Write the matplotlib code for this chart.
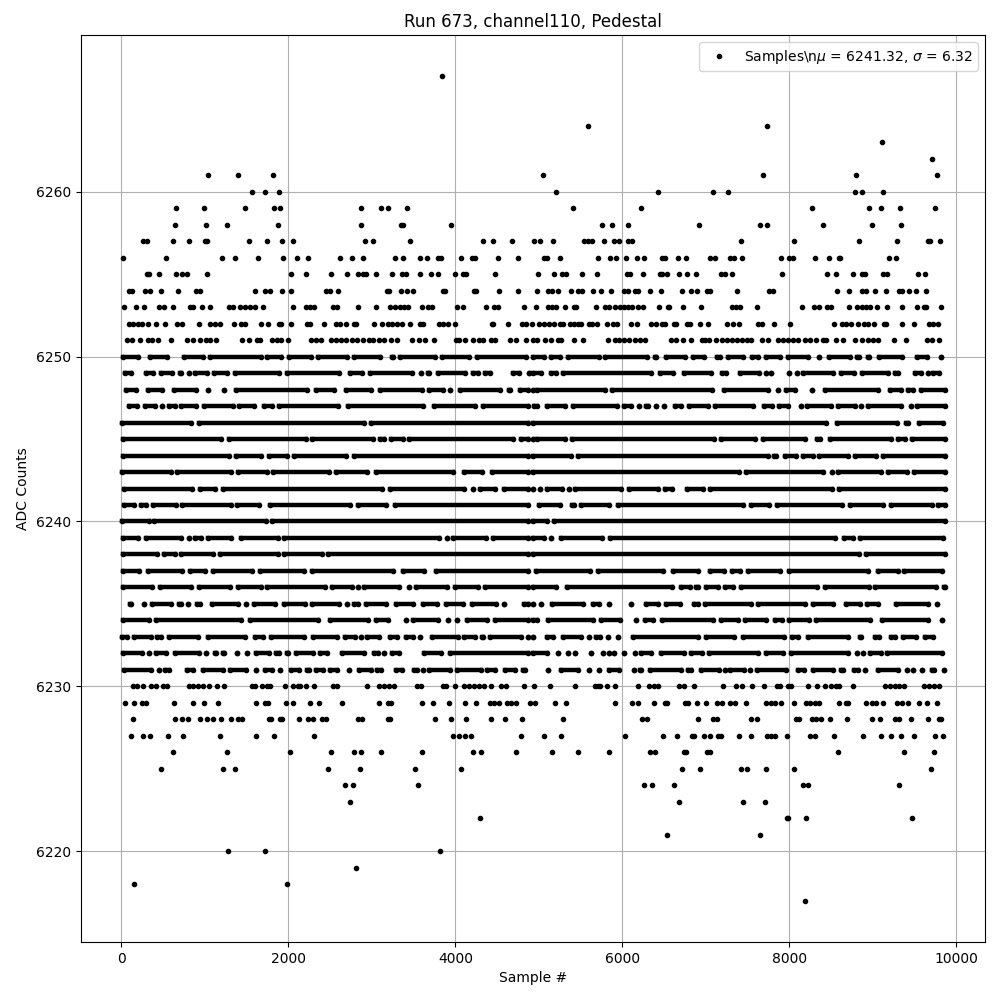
import matplotlib
matplotlib.use('Agg')
import matplotlib.pyplot as plt

# Sample numbers, one list per ADC level (outer, separable dots)
s6267 = [3838]
s6264 = [5594, 7730]
s6263 = [9110]
s6262 = [9710]
s6261 = [1042, 1390, 1810, 5054, 7682, 8798, 9770]
s6260 = [1562, 1714, 1882, 5210, 6422, 7082, 7262, 8786, 8870, 9122]
s6259 = [658, 994, 1474, 1822, 1898, 2866, 3106, 3190, 3418, 5414, 6218, 8270, 8954, 9098, 9326, 9746]
s6258 = [646, 1018, 1270, 1870, 2866, 3350, 3378, 3946, 5762, 5882, 6074, 6914, 7646, 7730, 8402, 8990, 9338]
s6257 = [258, 310, 622, 814, 1006, 1022, 1522, 1738, 1918, 2050, 2914, 3010, 3454, 4330, 4450, 4678,
         4946, 5018, 5174, 5546, 5594, 5642, 5786, 5906, 5966, 6074, 6122, 7418, 8054, 8834, 9290, 9662, 9686, 9806]
s6256 = [22, 538, 1210, 1354, 1630, 1930, 2098, 2230, 2614, 2758, 2890, 3274, 3370, 3574, 3658, 3790, 3822,
         4066, 4198, 4234, 4510, 4750, 5066, 5102, 5258, 5714, 5858, 5930, 6050, 6170, 6254, 6470, 6506, 6662,
         6758, 7046, 7106, 7286, 7334, 7430, 7898, 7994, 8042, 8306, 8474, 8594, 8606, 9194, 9278]
s6255 = [310, 326, 454, 658, 722, 790, 1030, 2026, 2206, 2506, 2698, 2830, 2890, 2926, 3046, 3238, 3358, 3406,
         3574, 3706, 3790, 3994, 4090, 4130, 4474, 4994, 5186, 5282, 5330, 5522, 5702, 6062, 6098, 6242, 6446,
         6470, 6530, 6674, 6770, 6878, 7178, 7226, 7310, 7910, 8450, 8558, 8762, 8870, 8906, 9122, 9170, 9542, 9626]
s6254 = [94, 126, 286, 346, 478, 682, 894, 942, 1594, 1714, 1774, 1918, 2026, 2446, 2494, 2590, 3178, 3206, 3346,
         3418, 3490, 3850, 3870, 4222, 4242, 4522, 4750, 4982, 5114, 5162, 5234, 5390, 5474, 5522, 5654, 5750,
         5870, 6026, 6074, 6146, 6182, 6326, 6458, 6710, 6818, 6894, 7010, 7046, 7370, 7754, 7802, 8570, 8714,
         8870, 8918, 9026, 9158, 9314, 9350, 9434, 9518, 9638]
s6253 = [34, 178, 274, 454, 514, 622, 826, 862, 970, 1066, 1294, 1330, 1414, 1474, 1534, 1594, 1690, 2050, 2206,
         2262, 2302, 2530, 2586, 2830, 3046, 3214, 3274, 3334, 3382, 3430, 3598, 3670, 3718, 4018, 4090, 4366,
         4462, 4510, 4822, 4970, 5114, 5162, 5210, 5318, 5426, 5450, 5690, 5798, 5846, 5918, 5978, 6026, 6074,
         6122, 6182, 6242, 6434, 6542, 6554, 6722, 6938, 7310, 7358, 7406, 7610, 8150, 8294, 8354, 8450, 8498,
         8714, 8810, 8870, 8918, 8966, 9050, 9170, 9350, 9530, 9614, 9638, 9818]
s6252 = [94, 142, 202, 242, 322, 418, 526, 670, 730, 934, 1066, 1122, 1186, 1342, 1426, 1474, 1666, 1750, 1882,
         1906, 2026, 2218, 2254, 2422, 2566, 2622, 2686, 2782, 2806, 3022, 3122, 3190, 3242, 3302, 3362, 3454,
         3574, 3614, 3802, 3850, 3906, 3994, 4438, 4454, 4630, 4798, 4846, 4922, 5006, 5066, 5126, 5186, 5258,
         5294, 5378, 5426, 5474, 5510, 5606, 5642, 5702, 5822, 5894, 5942, 6110, 6170, 6338, 6398, 6470, 6506,
         6614, 6638, 6770, 6806, 6926, 7022, 7250, 7322, 7394, 7622, 7670, 7814, 8006, 8534, 8630, 8678, 8738,
         8822, 8894, 8942, 9014, 9134, 9158, 9350, 9494, 9674, 9722, 9782]
s6251 = [66, 126, 226, 322, 370, 442, 598, 790, 862, 946, 1018, 1066, 1138, 1438, 1522, 1618, 1654, 1798, 1858,
         1906, 1990, 2266, 2326, 2386, 2506, 2566, 2626, 2686, 2758, 2818, 2890, 2962, 3010, 3082, 3142, 3226,
         3298, 3478, 3562, 3634, 3742, 4006, 4042, 4114, 4210, 4282, 4330, 4430, 4478, 4654, 4726, 4846, 4934,
         4982, 5078, 5150, 5234, 5270, 5426, 5534, 5834, 5918, 5966, 6026, 6086, 6146, 6206, 6266, 6578, 6638,
         6722, 6818, 6950, 6986, 7034, 7118, 7190, 7250, 7310, 7370, 7430, 7490, 7538, 7670, 7742, 7862, 7922,
         7982, 8042, 8102, 8186, 8246, 8318, 8402, 8438, 8558, 8642, 8786, 8870, 8942, 9002, 9062, 9254, 9398,
         9654, 9710, 9794]
s6230 = [142, 190, 262, 358, 418, 502, 550, 814, 862, 922, 982, 1054, 1150, 1234, 1558, 1594, 1678, 1738, 1774,
         1954, 2050, 2110, 2134, 2206, 2302, 2530, 2578, 2938, 3082, 3142, 3202, 3262, 3538, 3586, 3850, 3886,
         3994, 4102, 4162, 4222, 4282, 4342, 4426, 4546, 4606, 4822, 4946, 5138, 5438, 5678, 5714, 5738, 5822,
         5918, 6182, 6314, 6374, 6422, 6674, 6734, 6854, 7202, 7358, 7430, 7550, 7694, 7850, 7886, 7982, 8018,
         8230, 8330, 8426, 8498, 8558, 8594, 8762, 9146, 9206, 9266, 9314, 9374, 9614, 9674, 9734, 9794]
s6229 = [46, 154, 250, 298, 634, 862, 994, 1162, 1606, 1714, 1750, 1966, 2050, 2254, 2362, 2638, 3082, 3190, 3226,
         3598, 3730, 3922, 4114, 4246, 4414, 4462, 4522, 4618, 4666, 4726, 4894, 4958, 5198, 5330, 5918, 6122,
         6182, 6374, 6506, 6530, 6746, 6782, 6890, 6998, 7130, 7190, 7286, 7346, 7478, 7718, 7778, 7826, 7898,
         8054, 8198, 8246, 8306, 8354, 8594, 8678, 8702, 8918, 8990, 9038, 9122, 9290, 9350, 9422, 9554, 9650, 9770]
s6228 = [142, 646, 730, 802, 946, 1030, 1102, 1198, 1318, 1390, 1438, 1762, 1790, 1894, 1918, 2122, 2230, 2290,
         2398, 2446, 2830, 2878, 3190, 3214, 3754, 3946, 4126, 4426, 4594, 4798, 5294, 6230, 6290, 6902, 7082,
         7130, 7538, 7610, 8078, 8114, 8270, 8318, 8378, 8486, 8690, 8990, 9086, 9266, 9314, 9458, 9662, 9794, 9818]
s6227 = [118, 262, 346, 562, 742, 1186, 1606, 1822, 2302, 3970, 4042, 4114, 4186, 4786, 5066, 5270, 6038, 6482,
         6650, 6830, 6854, 6974, 7046, 7142, 7178, 7394, 7538, 7730, 7778, 7826, 7970, 8246, 8306, 8534, 8882,
         9098, 9218, 9338, 9494, 9746, 9842]
s6226 = [622, 1270, 2014, 2506, 2782, 2866, 3106, 3598, 4210, 4306, 4726, 5162, 5474, 5846, 6326, 6386, 6734, 6758,
         7010, 7046, 8582, 9374, 9734]
s6225 = [478, 1222, 1354, 2470, 2854, 3514, 4066, 6710, 6926, 7418, 7490, 7718, 8054, 9698]
s6224 = [2674, 2770, 3550, 6254, 6350, 6614, 8162, 8222, 9314]
s6223 = [2734, 6674, 7442, 7706]
s6222 = [4294, 7970, 7982, 8198, 9470]
s6221 = [6530, 7646]
s6220 = [1282, 1714, 3814]
s6219 = [2806]
s6218 = [154, 1978]
s6217 = [8186]

dot_levels = [6267, 6264, 6263, 6262, 6261, 6260, 6259, 6258, 6257, 6256, 6255, 6254, 6253, 6252, 6251,
              6230, 6229, 6228, 6227, 6226, 6225, 6224, 6223, 6222, 6221, 6220, 6219, 6218, 6217]
dot_rows = [s6267, s6264, s6263, s6262, s6261, s6260, s6259, s6258, s6257, s6256, s6255, s6254, s6253, s6252, s6251,
            s6230, s6229, s6228, s6227, s6226, s6225, s6224, s6223, s6222, s6221, s6220, s6219, s6218, s6217]

# Central levels: the dots merge, so only the (first, last) sample of each visible run can be read
r6250 = [(22, 198), (338, 542), (750, 982), (1062, 1670), (1742, 1910), (2006, 2270), (2354, 2698), (2782, 3102),
         (3246, 3250), (3342, 3750), (3834, 4158), (4262, 4850), (4926, 5062), (5146, 5250), (5346, 5722), (5798, 6294),
         (6390, 6406), (6526, 6750), (6846, 6982), (7134, 7174), (7266, 7442), (7554, 7630), (7726, 7890), (7986, 8230),
         (8358, 8358), (8478, 8722), (8806, 8834), (8946, 8950), (9078, 9350), (9534, 9646), (9822, 9822)]
r6249 = [(46, 110), (294, 382), (474, 610), (702, 710), (806, 806), (886, 1022), (1114, 1270), (1354, 1890), (1982, 2610),
         (2734, 2878), (2982, 3478), (3594, 3594), (3674, 3690), (3786, 4110), (4214, 4270), (4354, 4414), (4694, 4758),
         (4886, 4886), (4926, 5030), (5146, 5202), (5294, 6342), (6446, 6606), (6738, 7062), (7194, 7242), (7406, 7642),
         (7718, 7718), (7786, 7786), (7998, 8002), (8098, 8098), (8166, 8522), (8618, 8774), (8866, 9182), (9266, 9302),
         (9506, 9582), (9658, 9658), (9726, 9798)]
r6248 = [(54, 178), (314, 490), (626, 898), (1034, 1034), (1226, 1226), (1366, 2222), (2326, 2542), (2694, 2990),
         (3102, 3598), (3686, 3850), (3934, 3934), (4054, 4538), (4646, 4650), (4774, 4870), (4926, 4926), (4974, 5790),
         (5878, 7070), (7214, 7750), (7866, 7866), (7958, 8070), (8270, 8270), (8426, 9062), (9206, 9334), (9426, 9482),
         (9578, 9862)]
r6247 = [(94, 190), (282, 398), (482, 482), (566, 638), (718, 898), (994, 1338), (1402, 1582), (1702, 1798), (1886, 2598),
         (2714, 3610), (3742, 4230), (4334, 4870), (4938, 4982), (5094, 5310), (5406, 5934), (6026, 6110), (6198, 6198),
         (6286, 6310), (6398, 6406), (6494, 6494), (6626, 6702), (6798, 7022), (7106, 7562), (7698, 7790), (7878, 7982),
         (8146, 8146), (8214, 8502), (8586, 8782), (8854, 8854), (8938, 9334), (9454, 9454), (9526, 9862)]
r6246 = [(6, 838), (926, 2902), (2994, 4870), (4926, 8442), (8566, 9294), (9398, 9422), (9558, 9842)]
r6245 = [(22, 1190), (1286, 2210), (2286, 3010), (3094, 3150), (3234, 3370), (3446, 4690), (4782, 4870), (4926, 4926),
         (4974, 5310), (5398, 7094), (7186, 7590), (7686, 8194), (8334, 8366), (8486, 9214), (9306, 9382), (9466, 9862)]
r6244 = [(22, 1290), (1366, 1670), (1766, 1978), (2066, 2690), (2782, 4870), (4926, 5390), (5466, 7742), (7814, 7842),
         (7946, 8082), (8166, 8282), (8358, 8702), (8786, 9042), (9126, 9862)]
r6243 = [(6, 590), (662, 1310), (1394, 1742), (1814, 2490), (2574, 2942), (3046, 3970), (4106, 4318), (4434, 4870),
         (4926, 7402), (7486, 8402), (8518, 8518), (8586, 9094), (9186, 9414), (9494, 9862)]
r6242 = [(34, 850), (942, 1118), (1214, 3118), (3214, 4102), (4206, 4206), (4294, 4478), (4586, 4870), (4926, 4926),
         (5014, 5014), (5094, 5282), (5358, 5358), (5434, 5982), (6078, 6422), (6506, 6590), (6774, 6962), (7054, 8510),
         (8598, 9862)]
r6241 = [(34, 150), (234, 298), (374, 650), (726, 1310), (1386, 1642), (1774, 2742), (2834, 3170), (3274, 4870),
         (4998, 5250), (5398, 5422), (5506, 5842), (5946, 7442), (7546, 7762), (7854, 8630), (8726, 9122), (9218, 9710),
         (9786, 9862)]
r6240 = [(6, 330), (394, 1730), (1806, 4870), (4926, 5094), (5186, 9862)]
r6239 = [(14, 198), (294, 718), (806, 806), (886, 950), (1034, 1310), (1434, 1870), (1946, 3802), (3894, 3894),
         (3966, 4370), (4454, 4870), (4926, 5062), (5146, 5150), (5266, 5762), (5858, 8550), (8654, 8762), (8846, 9842)]
r6238 = [(14, 430), (506, 638), (714, 1098), (1182, 1870), (1946, 2398), (2478, 4870), (4926, 8830), (8914, 9862)]
r6237 = [(14, 214), (314, 730), (822, 998), (1094, 1558), (1662, 2182), (2282, 3250), (3374, 3630), (3762, 4870),
         (4966, 5614), (5706, 6482), (6606, 6902), (7054, 7222), (7314, 7414), (7506, 7894), (7998, 8942), (9066, 9302),
         (9378, 9830)]
r6236 = [(14, 370), (458, 838), (926, 1302), (1394, 1670), (1742, 2438), (2518, 2758), (2830, 2830), (2902, 3330),
         (3446, 3446), (3534, 3902), (3990, 4270), (4350, 4870), (4926, 5210), (5338, 6590), (6702, 6806), (6886, 6902),
         (6998, 7142), (7230, 7326), (7422, 8334), (8430, 8950), (9026, 9762), (9854, 9862)]
r6235 = [(106, 110), (274, 274), (366, 598), (686, 710), (794, 798), (902, 942), (1086, 1398), (1486, 1486), (1582, 1838),
         (1946, 2198), (2286, 2610), (2702, 2702), (2790, 2838), (2934, 3170), (3294, 3490), (3614, 3782), (3882, 4090),
         (4194, 4490), (4586, 4586), (4826, 4870), (4926, 4926), (5022, 5022), (5154, 5534), (5646, 5726), (5846, 5846),
         (6102, 6102), (6278, 6430), (6518, 6694), (6854, 6910), (6986, 7542), (7630, 8190), (8286, 8522), (8678, 8842),
         (8926, 9062), (9278, 9662), (9774, 9774)]
r6234 = [(14, 330), (414, 1430), (1534, 2350), (2494, 2950), (3054, 3190), (3406, 3410), (3494, 3790), (3914, 3914),
         (4014, 4014), (4134, 4382), (4474, 4870), (4926, 4982), (5106, 5654), (5746, 5974), (6158, 6162), (6266, 6362),
         (6474, 7082), (7186, 7382), (7470, 7722), (7834, 7910), (7998, 8242), (8326, 8962), (9106, 9662), (9826, 9826)]
r6233 = [(6, 70), (146, 350), (422, 478), (566, 918), (1034, 1478), (1594, 1690), (1794, 2182), (2294, 2582), (2674, 2798),
         (2874, 2874), (2946, 3090), (3214, 3298), (3414, 3490), (3582, 3582), (3722, 4030), (4106, 4230), (4314, 4330),
         (4414, 4790), (4874, 4874), (4926, 4926), (5098, 5174), (5294, 5502), (5598, 5598), (5686, 5734), (5826, 5826),
         (5946, 5946), (6126, 6902), (7006, 7342), (7446, 7942), (8038, 8102), (8226, 8702), (8846, 8854), (9026, 9070),
         (9214, 9270), (9366, 9522), (9626, 9722)]
r6232 = [(14, 250), (334, 334), (414, 538), (646, 930), (1014, 1018), (1126, 1130), (1222, 1234), (1386, 1386), (1502, 1502),
         (1614, 1770), (1854, 1882), (1982, 1990), (2094, 2290), (2374, 2462), (2646, 2902), (3030, 3078), (3146, 3150),
         (3246, 3330), (3626, 3830), (3934, 4870), (4926, 5102), (5226, 5226), (5346, 5346), (5434, 5434), (5622, 5622),
         (5766, 5766), (5838, 5838), (5906, 5906), (6018, 6018), (6146, 6150), (6226, 6342), (6458, 6734), (6826, 6950),
         (7038, 7622), (7718, 7922), (8018, 8702), (8814, 8814), (8886, 8886), (8966, 9102), (9174, 9830)]
r6231 = [(34, 358), (446, 446), (518, 574), (782, 862), (974, 1214), (1298, 1490), (1606, 1606), (1714, 1798), (1898, 1898),
         (2026, 2126), (2222, 2246), (2326, 2410), (2494, 2578), (2726, 2726), (2846, 2990), (3062, 3110), (3286, 3358),
         (3502, 3538), (3614, 3614), (3686, 3938), (4022, 4302), (4382, 4478), (4594, 4710), (4806, 4838), (5114, 5114),
         (5266, 5474), (5606, 5606), (5722, 5722), (5838, 5962), (6138, 6138), (6214, 6222), (6334, 6702), (6786, 6822),
         (6946, 7154), (7226, 7226), (7294, 7462), (7526, 7526), (7614, 7962), (8106, 8174), (8286, 8522), (8614, 8642),
         (8774, 8822), (8910, 8910), (9066, 9302), (9414, 9414), (9486, 9486), (9586, 9590), (9706, 9734), (9858, 9858)]

run_levels = [6250, 6249, 6248, 6247, 6246, 6245, 6244, 6243, 6242, 6241, 6240,
              6239, 6238, 6237, 6236, 6235, 6234, 6233, 6232, 6231]
run_rows = [r6250, r6249, r6248, r6247, r6246, r6245, r6244, r6243, r6242, r6241, r6240,
            r6239, r6238, r6237, r6236, r6235, r6234, r6233, r6232, r6231]

legend_label = r'Samples\n$\mu$ = 6241.32, $\sigma$ = 6.32'

fig, ax = plt.subplots(figsize=(10, 10))

# Empty handle so the legend gets the dot marker
ax.plot([], [], 'k.', label=legend_label)

for level, samples in zip(dot_levels, dot_rows):
    ax.plot(samples, [level] * len(samples), 'k.', zorder=3)

for level, runs in zip(run_levels, run_rows):
    for first, last in runs:
        ax.plot([first, last], [level, level], color='k', linewidth=3.2, marker='.', zorder=3)

ax.set_title('Run 673, channel110, Pedestal')
ax.set_xlabel('Sample #')
ax.set_ylabel('ADC Counts')
ax.set_xlim(-485, 10345)
ax.set_ylim(6214.5, 6269.5)
ax.set_yticks([6220, 6230, 6240, 6250, 6260])
ax.ticklabel_format(useOffset=False, style='plain')
ax.grid(True)
ax.legend(loc='upper right')

fig.subplots_adjust(left=0.081, right=0.985, top=0.965, bottom=0.058)
fig.savefig('out.png', dpi=100)
